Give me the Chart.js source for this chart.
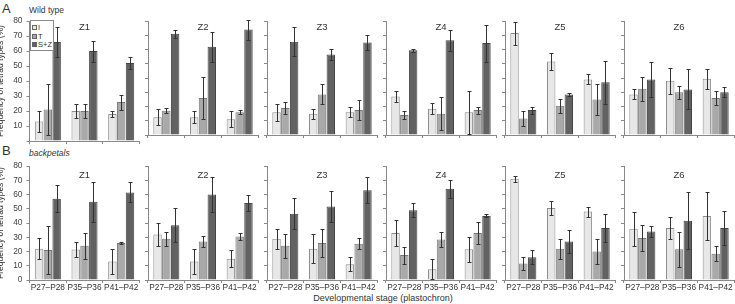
<!DOCTYPE html>
<html>
<head>
<meta charset="utf-8">
<script src="https://cdn.jsdelivr.net/npm/chart.js@4"></script>
<style>
  body { margin: 0; background: #fff; overflow: hidden; }
  #wrap { position: relative; width: 735px; height: 304px; font-family: "Liberation Sans", Arial, sans-serif; color: #333; }
  #wrap canvas { position: absolute; }
  .lbl { position: absolute; white-space: nowrap; }
  .legend { position: absolute; left: 30px; top: 20px; width: 24px; height: 31px; border: 1px solid #888; background: #fff; font-size: 7.5px; line-height: 8.5px; padding-top: 3px; box-sizing: border-box; white-space: nowrap; }
  .legend div { height: 8.5px; padding-left: 1px; }
  .legend span { display: inline-block; width: 3px; height: 3px; border: 1px solid #666; margin-right: 1px; vertical-align: 0px; }
</style>
</head>
<body>
<div id="wrap">
  <div class="lbl" style="left:2px;top:1px;font-size:13px;">A</div>
  <div class="lbl" style="left:29px;top:5px;font-size:8.5px;">Wild type</div>
  <div class="lbl" style="left:2px;top:143px;font-size:13px;">B</div>
  <div class="lbl" style="left:29px;top:148px;font-size:8.5px;font-style:italic;">backpetals</div>
  <div class="lbl" style="left:283px;width:200px;top:293px;text-align:center;font-size:9px;">Developmental stage (plastochron)</div>
</div>
<script>
// stages on the x axis, zones for the panels
const stages = ["P27–P28", "P35–P36", "P41–P42"];
const zones = ["Z1", "Z2", "Z3", "Z4", "Z5", "Z6"];

// wild type: means and error (+/-) per zone, per stage
const wtI     = [[13, 20, 18], [12.5, 12.5, 11], [16, 15, 16], [27, 18.5, 16], [71.5, 51.5, 39], [28.5, 38, 39.5]];
const wtIErr  = [[7, 4.5, 2], [5.5, 4, 5.5], [6, 3.5, 3.5], [4, 4, 15], [8, 6, 3.5], [3.5, 9, 7]];
const wtT     = [[21, 20, 26], [17, 26, 16], [19, 28.5, 17.5], [14, 15, 17.5], [11.5, 20.5, 25], [32.5, 30, 26]];
const wtTErr  = [[17, 4.5, 5], [1.8, 15, 1.5], [4.5, 7, 7], [3, 11.5, 2.5], [5.5, 5, 11], [8.5, 4.5, 5]];
const wtSZ    = [[66, 60, 52], [71, 62, 74], [65.5, 56.5, 65], [59.5, 66.5, 64.5], [17.5, 28.5, 37], [39, 32, 30]];
const wtSZErr = [[10, 7, 4], [3, 10.5, 7], [10, 4, 5.5], [1, 7.5, 13], [2.5, 1, 15], [12, 14, 3.5]];

// backpetals
const bpI     = [[22, 21.5, 13], [32, 13, 15], [29, 22, 11], [33, 7.5, 21.5], [71, 50.5, 48], [36, 36.5, 45]];
const bpIErr  = [[7.5, 5.5, 8.5], [8, 8.5, 6], [7, 10, 5], [9, 7, 9], [2, 5, 3.5], [12, 8, 17]];
const bpT     = [[21, 24, 26], [29, 27, 30.5], [24, 26, 25.5], [17.5, 28.5, 33], [11.5, 22, 20], [29.5, 21.5, 18.5]];
const bpTErr  = [[17, 9, 1], [5, 4, 2.5], [8.5, 10, 4], [6, 5, 8], [4.5, 7, 8.5], [9, 12.5, 5.5]];
const bpSZ    = [[57, 55, 61.5], [38.5, 60, 54], [46.5, 51.5, 63], [49, 64, 45], [16, 27, 36.5], [34, 41.5, 36.5]];
const bpSZErr = [[9.5, 14, 7], [12, 12, 5.5], [11, 11, 9], [5, 6.5, 1], [5, 8, 10], [4, 20, 12]];

const errorBars = {
  id: 'errorBars',
  afterDatasetsDraw(chart) {
    const ctx = chart.ctx, ys = chart.scales.y;
    ctx.save();
    ctx.strokeStyle = '#333';
    ctx.lineWidth = 1;
    chart.data.datasets.forEach((ds, i) => {
      chart.getDatasetMeta(i).data.forEach((bar, j) => {
        const v = ds.data[j], e = ds.err[j];
        const x = Math.round(bar.x) + 0.5;
        const y1 = Math.round(ys.getPixelForValue(v + e)) + 0.5;
        const y2 = Math.round(ys.getPixelForValue(Math.max(0, v - e))) + 0.5;
        ctx.beginPath();
        ctx.moveTo(x, y1); ctx.lineTo(x, y2);
        ctx.moveTo(x - 2, y1); ctx.lineTo(x + 2, y1);
        ctx.moveTo(x - 2, y2); ctx.lineTo(x + 2, y2);
        ctx.stroke();
      });
    });
    ctx.restore();
  }
};

const zoneLabel = {
  id: 'zoneLabel',
  afterDraw(chart, args, opts) {
    const a = chart.chartArea, ctx = chart.ctx;
    ctx.save();
    ctx.font = '9.5px "Liberation Sans", Arial, sans-serif';
    ctx.fillStyle = '#333';
    ctx.textAlign = 'center';
    ctx.textBaseline = 'middle';
    ctx.fillText(opts.text, (a.left + a.right) / 2, a.top + opts.dy);
    ctx.restore();
  }
};

const wrap = document.getElementById('wrap');
const rows = [
  { I: wtI, IE: wtIErr, T: wtT, TE: wtTErr, S: wtSZ, SE: wtSZErr, top: 21, dy: 6 },
  { I: bpI, IE: bpIErr, T: bpT, TE: bpTErr, S: bpSZ, SE: bpSZErr, top: 166, dy: 9 }
];
const plotW = 110, plotH = 114;
const font = '"Liberation Sans", Arial, sans-serif';

rows.forEach((row, r) => {
  zones.forEach((zone, k) => {
    const first = k === 0;
    const plotLeft = 29 + 119 * k;
    const cv = document.createElement('canvas');
    cv.width = first ? 160 : 125;
    cv.height = 150;
    wrap.appendChild(cv);

    const chart = new Chart(cv, {
      type: 'bar',
      data: {
        labels: stages,
        datasets: [
          { label: 'I', data: row.I[k], err: row.IE[k], backgroundColor: '#e7e7e7', borderColor: '#8c8c8c', borderWidth: 1 },
          { label: 'T', data: row.T[k], err: row.TE[k], backgroundColor: '#a9a9a9', borderColor: '#777', borderWidth: 1 },
          { label: 'S+Z', data: row.S[k], err: row.SE[k], backgroundColor: '#626262', borderColor: '#444', borderWidth: 1 }
        ]
      },
      options: {
        responsive: false,
        animation: false,
        layout: { padding: { top: 6, right: 3, left: 0, bottom: 0 } },
        datasets: { bar: { categoryPercentage: 0.72, barPercentage: 0.96 } },
        plugins: {
          legend: { display: false },
          tooltip: { enabled: false },
          zoneLabel: { text: zone, dy: row.dy }
        },
        scales: {
          x: {
            grid: { drawOnChartArea: false, tickLength: 3, color: '#888' },
            border: { color: '#888' },
            ticks: { display: r === 1, maxRotation: 0, minRotation: 0, autoSkip: false, padding: 0, color: '#333', font: { family: font, size: 8.3 } }
          },
          y: {
            min: 0, max: 80,
            grid: { drawOnChartArea: false, tickLength: 3, color: '#888' },
            border: { color: '#888' },
            title: { display: first, text: 'Frequency of tetrad types (%)', color: '#333', font: { family: font, size: 8.5 }, padding: { top: 0, bottom: 3 } },
            ticks: {
              display: first, stepSize: 10, padding: 4, color: '#444', autoSkip: false,
              font: { family: font, size: 8.4 },
              callback: v => (r === 0 && v === 0) ? '' : String(v)
            }
          }
        }
      },
      plugins: [errorBars, zoneLabel]
    });

    // fit the plot area to 110 x 114 px, then line the canvas up on the page
    const a = chart.chartArea;
    chart.options.layout.padding.right += (a.right - a.left) - plotW;
    chart.options.layout.padding.bottom += (a.bottom - a.top) - plotH;
    chart.update();
    cv.style.left = (plotLeft - chart.chartArea.left) + 'px';
    cv.style.top = (row.top - chart.chartArea.top) + 'px';
  });
});

// legend box in the first panel
const lg = document.createElement('div');
lg.className = 'legend';
lg.innerHTML = '<div><span style="background:#e7e7e7"></span>I</div>' +
               '<div><span style="background:#a9a9a9"></span>T</div>' +
               '<div><span style="background:#626262"></span>S+Z</div>';
wrap.appendChild(lg);
</script>
</body>
</html>
